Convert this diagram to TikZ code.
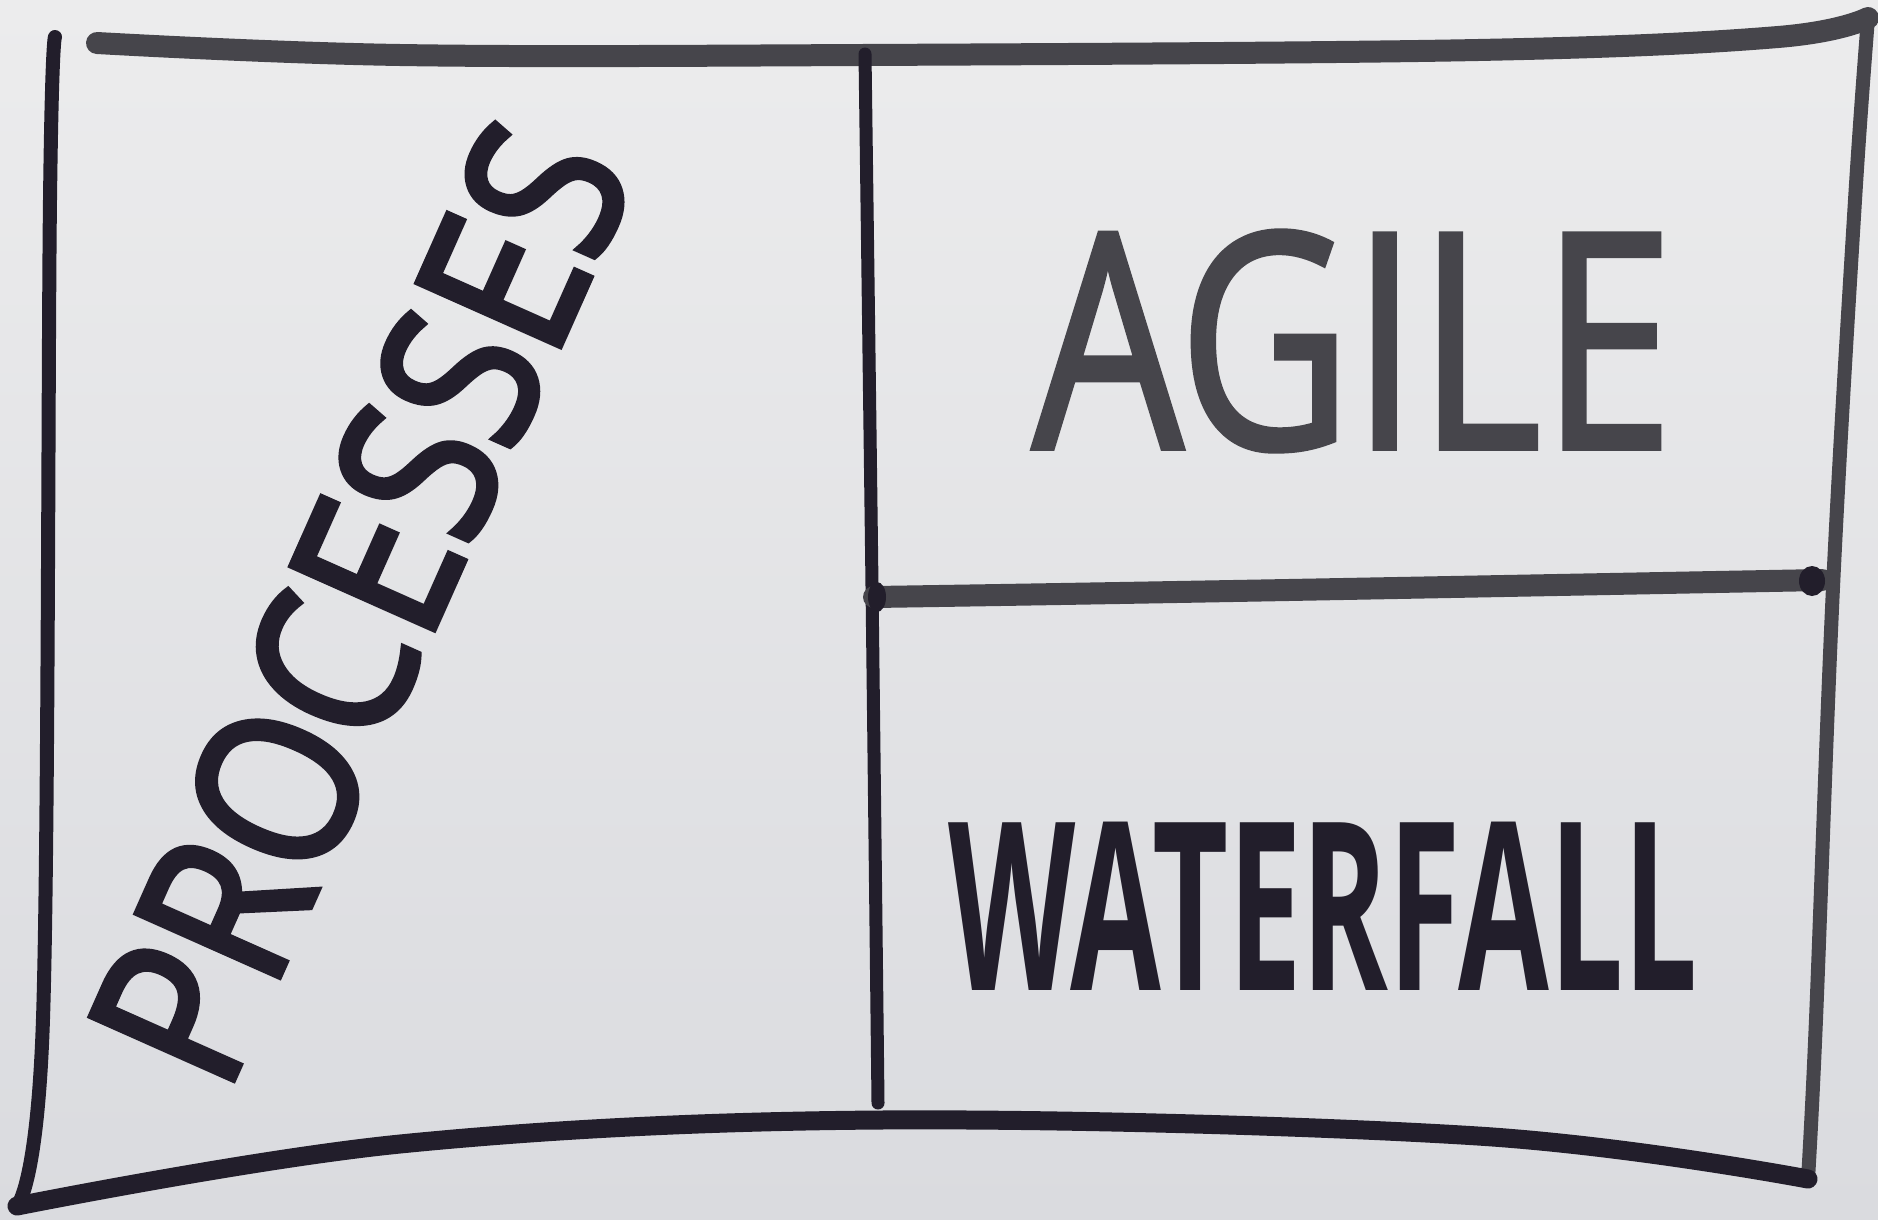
\documentclass[tikz,border=0pt]{standalone}
\usepackage{fontspec}
\setmainfont{Open Sans}
\newfontfamily\agilefont{Open Sans}[FakeStretch=0.79, FakeBold=1.5]
\newfontfamily\waterfont{Open Sans}[UprightFont=* Bold, FakeStretch=0.56]
\newfontfamily\procfont{Open Sans}[FakeStretch=0.86, FakeBold=3]
\definecolor{paperT}{HTML}{ECECED}
\definecolor{paperB}{HTML}{DADBDF}
\definecolor{inkgrey}{HTML}{46454B}
\definecolor{inkdark}{HTML}{221E2B}
\begin{document}
\begin{tikzpicture}[x=1pt,y=-1pt,
  ink/.style={draw=inkdark, line cap=round, line join=round},
  inkg/.style={draw=inkgrey, line cap=round, line join=round},
  word/.style={inner sep=0pt, outer sep=0pt, anchor=center}]
\shade[top color=paperT, bottom color=paperB] (0,0) rectangle (1878,1219);
\useasboundingbox (0,0) rectangle (1878,1219);
% outer frame
\draw[inkg, line width=22] plot[smooth, tension=0.6] coordinates {(97,43) (400,55) (862,55) (1478,50) (1778,37) (1868,18)};
\draw[inkg, line width=14] plot[smooth, tension=0.6] coordinates {(1868,18) (1855,200) (1833,587) (1816,1019) (1808,1179)};
\draw[ink, line width=19] plot[smooth, tension=0.6] coordinates {(17,1206) (400,1144) (880,1120) (1478,1136) (1808,1179)};
\draw[ink, line width=14] plot[smooth, tension=0.6] coordinates {(55,37) (50,200) (43,1019) (17,1206)};
% dividers
\draw[ink, line width=13] plot[smooth, tension=0.6] coordinates {(865,54) (872,587) (878,1103)};
\draw[inkg, line width=22] (874,597) .. controls (1200,592) and (1500,586) .. (1822,580);
\fill[inkdark] (877,597) ellipse (9 and 15);
\fill[inkdark] (1812,581) ellipse (13 and 15);
% words
\node[word, text=inkgrey] (agile) at (1353,341) {\agilefont\fontsize{301}{301}\selectfont AGILE};
\node[word, text=inkdark] (waterfall) at (1323,906) {\waterfont\fontsize{235}{235}\selectfont WATERFALL};
\node[word, text=inkdark, rotate=66] (processes) at (360,603) {\procfont\fontsize{218}{218}\selectfont PROCESSES};
\end{tikzpicture}
\end{document}
